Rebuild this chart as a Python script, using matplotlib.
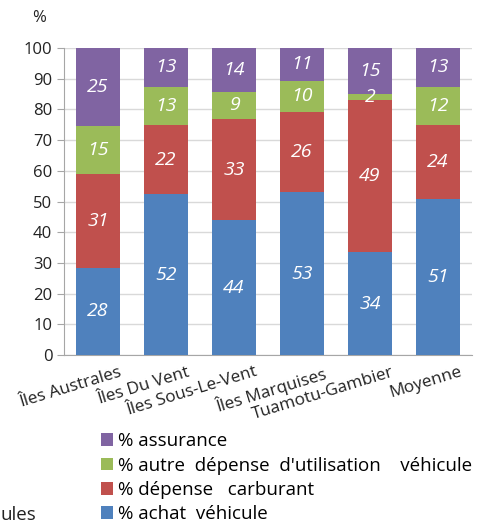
import matplotlib
matplotlib.use("Agg")
import matplotlib.pyplot as plt
import matplotlib.transforms as mtransforms
from matplotlib.patches import Patch
import numpy as np

plt.rcParams["font.family"] = ["Open Sans", "DejaVu Sans"]

CATEGORIES = ["Îles Australes", "Îles Du Vent", "Îles Sous-Le-Vent",
              "Îles Marquises", "Tuamotu-Gambier", "Moyenne"]
ACHAT = [28.5, 52.4, 43.9, 53.1, 33.6, 50.8]
CARBURANT = [30.6, 22.4, 33.0, 26.0, 49.4, 24.2]
AUTRE = [15.4, 12.6, 8.9, 10.3, 1.9, 12.3]
ASSURANCE = [25.45, 12.6, 14.2, 10.6, 15.1, 12.7]

SERIES = [
    ("% achat  véhicule", ACHAT, "#4F81BD"),
    ("% dépense   carburant", CARBURANT, "#C0504D"),
    ("% autre  dépense  d'utilisation    véhicule", AUTRE, "#9BBB59"),
    ("% assurance", ASSURANCE, "#8064A2"),
]

fig = plt.figure(figsize=(4.93, 5.27), dpi=100)
ax = fig.add_axes([0.130, 0.326, 0.827, 0.583])

x = np.arange(len(CATEGORIES))
bottom = np.zeros(len(CATEGORIES))
for name, vals, color in SERIES:
    vals = np.array(vals)
    ax.bar(x, vals, 0.65, bottom=bottom, color=color, zorder=3)
    for xi, b, v in zip(x, bottom, vals):
        ax.text(xi, b + v / 2, f"{round(v)}", ha="center", va="center",
                color="white", fontsize=14, style="italic", zorder=4)
    bottom += vals

ax.set_xlim(-0.5, len(CATEGORIES) - 0.5)
ax.set_ylim(0, 100)
ax.set_yticks(range(0, 101, 10))
ax.tick_params(axis="y", labelsize=12, length=5, color="#A6A6A6", labelcolor="#222222")
ax.tick_params(axis="x", length=0, pad=5)
ax.grid(axis="y", color="#D9D9D9", linewidth=1, zorder=0)
for s in ["top", "right"]:
    ax.spines[s].set_visible(False)
for s in ["left", "bottom"]:
    ax.spines[s].set_color("#A6A6A6")

ax.set_xticks(x)
ax.set_xticklabels(CATEGORIES, fontsize=12.3, color="#222222")
offset = mtransforms.ScaledTranslation(0.21, -0.02, fig.dpi_scale_trans)
for lab in ax.get_xticklabels():
    lab.set_rotation(17)
    lab.set_ha("right")
    lab.set_va("top")
    lab.set_rotation_mode("anchor")
    lab.set_transform(lab.get_transform() + offset)

fig.text(0.08, 0.965, "%", fontsize=12, color="#222222", ha="center", va="center")

handles = [Patch(facecolor=c, label=n) for n, _, c in reversed(SERIES)]
fig.legend(handles=handles, loc="upper left", bbox_to_anchor=(0.205, 0.18),
           frameon=False, fontsize=13.5, handlelength=0.65, handleheight=0.65,
           handletextpad=0.25, labelspacing=0.34, borderaxespad=0, borderpad=0)

fig.text(0.0, 0.022, "ules", fontsize=13.5, color="#222222", ha="left", va="center")

fig.savefig("out.png", dpi=100)
